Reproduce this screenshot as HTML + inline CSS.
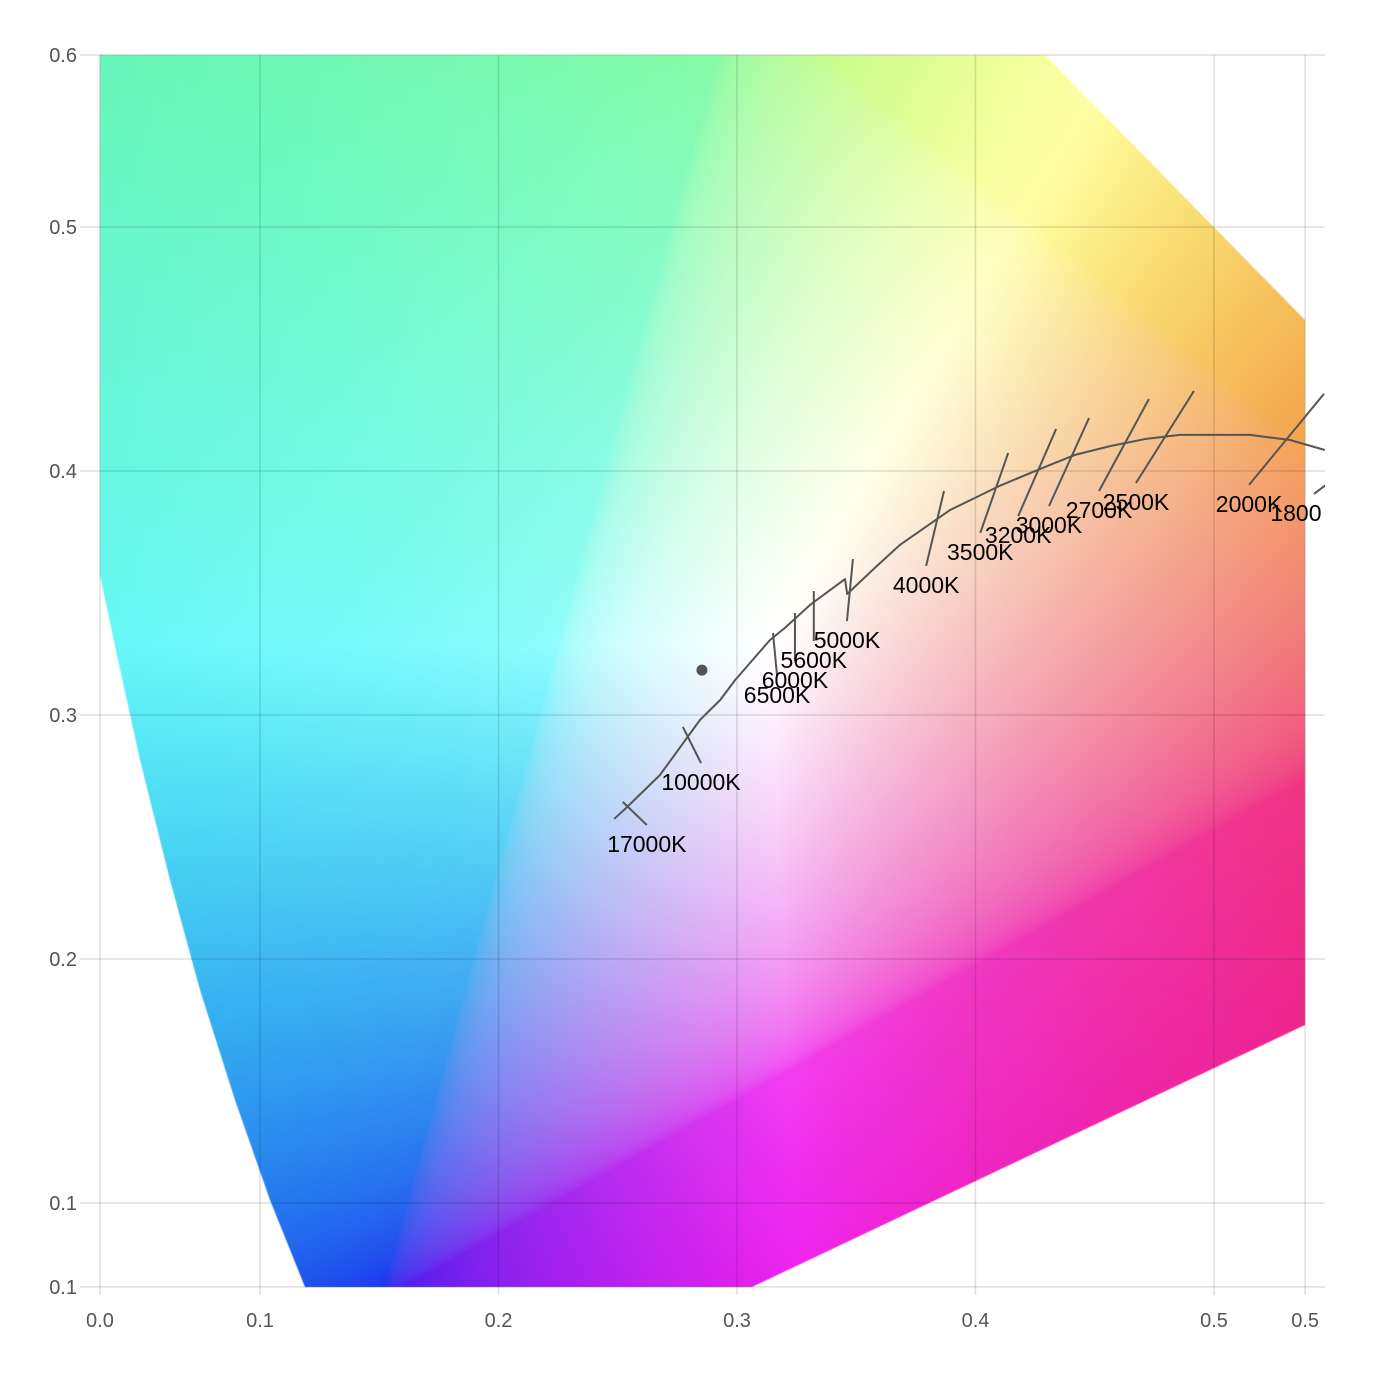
<!DOCTYPE html>
<html><head><meta charset="utf-8"><style>
html,body{margin:0;padding:0;background:#fff}
#wrap{position:relative;width:1380px;height:1382px}
canvas,svg{position:absolute;left:0;top:0}
text{font-family:"Liberation Sans",sans-serif}
</style></head><body>
<div id="wrap">
<canvas id="cv" width="1380" height="1382"></canvas>
<svg id="sv" width="1380" height="1382"></svg>
</div>
<script>
// ---- data ----
const xTicks=[0.0329,0.1,0.2,0.3,0.4,0.5,0.5382];
const yTicks=[0.5705,0.5,0.4,0.3,0.2,0.1,0.0656];
const locusX=[0.2485,0.2535,0.2677,0.2845,0.2929,0.2992,0.3138,0.3201,0.3306,0.3453,0.3462,0.3579,0.3683,0.3893,0.3998,0.4103,0.4312,0.4417,0.4564,0.4711,0.4857,0.5151,0.5319,0.5465];
const locusY=[0.2574,0.2619,0.2754,0.2980,0.3061,0.3143,0.3307,0.3357,0.3451,0.3557,0.3496,0.3604,0.3697,0.3840,0.3890,0.3940,0.4025,0.4066,0.4102,0.4131,0.4148,0.4148,0.4127,0.4086];
const cctLabels=["17000K","10000K","6500K","6000K","5600K","5000K","4000K","3500K","3200K","3000K","2700K","2500K","2000K","1800"];
const isoX1=[0.2521,0.2773,0.3151,0.3243,0.3322,0.3486,0.3868,0.4137,0.4338,0.4476,0.4727,0.4916,0.5461,0.5491];
const isoY1=[0.2644,0.2951,0.3336,0.3418,0.3508,0.3639,0.3918,0.4074,0.4172,0.4217,0.4295,0.4328,0.4316,0.3959];
const isoX2=[0.2622,0.2849,0.3168,0.3243,0.3322,0.3461,0.3793,0.4020,0.4179,0.4308,0.4518,0.4673,0.5147,0.5419];
const isoY2=[0.2549,0.2803,0.3160,0.3221,0.3303,0.3385,0.3611,0.3746,0.3815,0.3856,0.3918,0.3951,0.3943,0.3906];
const whiteX=[0.2853], whiteY=[0.3184];
// ---- scales ----
const L=100,R=1325,T=55,B=1287;
const sx=v=>260+(v-0.1)*2385;
const sy=v=>715-(v-0.3)*2440;
const ix=p=>0.1+(p-260)/2385, iy=p=>0.3-(p-715)/2440;
// ---- color fill ----
const poly=[[100,55],[1045,55],[1305,320],[1305,1025],[752,1287],[305,1287],[270,1200],[235,1100],[200,990],[170,880],[140,760],[118,660],[100,575]];
(function(){
 const c=document.getElementById('cv').getContext('2d');
 c.beginPath();poly.forEach((p,i)=>i?c.lineTo(p[0],p[1]):c.moveTo(p[0],p[1]));c.closePath();
 c.fillStyle='#000';c.fill();
 const img=c.getImageData(0,0,1380,1382),d=img.data;
 const gam=v=>v<=0.0031308?12.92*v:1.055*Math.pow(v,1/2.4)-0.055;
 for(let y=T;y<=B;y++){const yy=iy(y);for(let x=L;x<=1306;x++){
  const i=(y*1380+x)*4; if(d[i+3]===0)continue;
  const xx=ix(x);
  const X=xx/yy,Y=1,Z=(1-xx-yy)/yy;
  let r=3.2406*X-1.5372*Y-0.4986*Z, g=-0.9689*X+1.8758*Y+0.0415*Z, b=0.0557*X-0.2040*Y+1.0570*Z;
  const m=Math.max(r,g,b);
  r=Math.max(0,r/m);g=Math.max(0,g/m);b=Math.max(0,b/m);
  const w=Math.min(1,0.08+0.62/m);
  const k=0.91+0.09*Math.min(1,w*1.6);
  const al=d[i+3]/255;
  const R_=k*(255*gam(r)*(1-w)+255*w), G_=k*(255*gam(g)*(1-w)+255*w), B_=k*(255*gam(b)*(1-w)+255*w);
  d[i]=255-(255-R_)*al;d[i+1]=255-(255-G_)*al;d[i+2]=255-(255-B_)*al;d[i+3]=255;
 }}
 c.putImageData(img,0,0);
})();
// ---- svg ----
const NS='http://www.w3.org/2000/svg',S=document.getElementById('sv');
function mk(t,a,p){const e=document.createElementNS(NS,t);for(const k in a)e.setAttribute(k,a[k]);(p||S).appendChild(e);return e;}
xTicks.forEach((v,i)=>{
 const l=mk('line',{x1:sx(v),x2:sx(v),y1:T,y2:B+8,stroke:'rgba(0,0,0,0.13)','stroke-width':1.5});
 
 
 const t=mk('text',{x:sx(v),y:1327,'text-anchor':'middle','font-size':20,fill:'#555'});
 t.textContent=v.toFixed(1);
 
 
});
yTicks.forEach((v,i)=>{
 const l=mk('line',{x1:80,x2:R,y1:sy(v),y2:sy(v),stroke:'rgba(0,0,0,0.13)','stroke-width':1.5});
 
 
 const t=mk('text',{x:77,y:sy(v)+7,'text-anchor':'end','font-size':20,fill:'#555'});
 t.textContent=v.toFixed(1);
 
 
});
const g=mk('g',{});


const clip=mk('clipPath',{id:'pc'});mk('rect',{x:L,y:T,width:R-L,height:B-T},clip);
g.setAttribute('clip-path','url(#pc)');
const pth=mk('polyline',{points:locusX.map((v,i)=>sx(v)+','+sy(locusY[i])).join(' '),fill:'none',stroke:'#555','stroke-width':2,'stroke-linejoin':'round'},g);


cctLabels.forEach((lab,i)=>{
 const l=mk('line',{x1:sx(isoX1[i]),y1:sy(isoY1[i]),x2:sx(isoX2[i]),y2:sy(isoY2[i]),stroke:'#555','stroke-width':2},g);
 
 
 const lx=sx(isoX2[i])-(i===cctLabels.length-1?18:0),ly=sy(isoY2[i]);
 const t=mk('text',{x:lx,y:ly+27,'text-anchor':'middle','font-size':23,fill:'#000'},g);
 t.textContent=lab;
 
 
});
whiteX.forEach((v,i)=>{
 const c=mk('circle',{cx:sx(v),cy:sy(whiteY[i]),r:5.5,fill:'#555'});
 
 
});
</script>
</body></html>
